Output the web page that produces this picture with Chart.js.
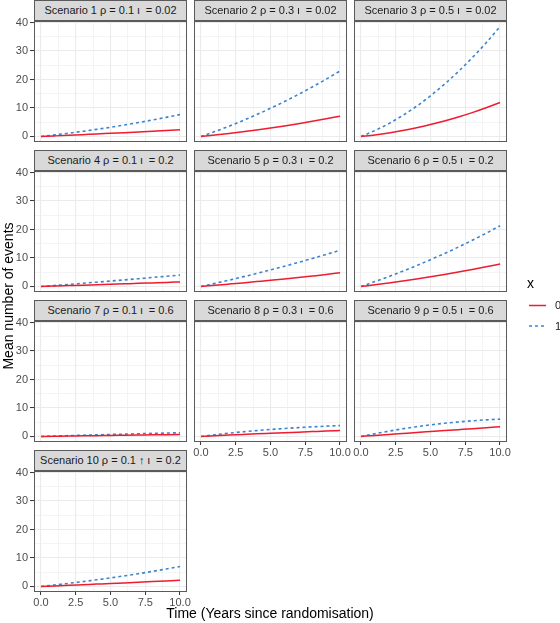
<!DOCTYPE html>
<html><head><meta charset="utf-8">
<script src="https://cdn.jsdelivr.net/npm/chart.js@4"></script>
<style>
html,body{margin:0;padding:0;background:#fff;}
body{width:560px;height:623px;overflow:hidden;position:relative;font-family:"Liberation Sans",Arial,sans-serif;}
canvas{position:absolute;}
.strip{position:absolute;box-sizing:border-box;height:21px;width:153px;background:#D9D9D9;border:1px solid #5a5a5a;color:#1A1A1A;font-size:11px;line-height:19px;text-align:center;white-space:pre;z-index:5;}
.txt{position:absolute;white-space:pre;z-index:6;}
</style></head><body>
<script>
// ---- data ----
const TIME = [0,1,2,3,4,5,6,7,8,9,10];
const X_TICKS = [0,2.5,5,7.5,10];
const X_TICK_LABELS = ['0.0','2.5','5.0','7.5','10.0'];
const X_MINOR = [1.25,3.75,6.25,8.75];
const Y_TICKS = [0,10,20,30,40];
const Y_TICK_LABELS = ['0','10','20','30','40'];
const Y_MINOR = [5,15,25,35];
const SERIES_NAMES = ['0','1'];
const SCENARIO_LABELS = [
  'Scenario 1 ρ = 0.1 ι  = 0.02',
  'Scenario 2 ρ = 0.3 ι  = 0.02',
  'Scenario 3 ρ = 0.5 ι  = 0.02',
  'Scenario 4 ρ = 0.1 ι  = 0.2',
  'Scenario 5 ρ = 0.3 ι  = 0.2',
  'Scenario 6 ρ = 0.5 ι  = 0.2',
  'Scenario 7 ρ = 0.1 ι  = 0.6',
  'Scenario 8 ρ = 0.3 ι  = 0.6',
  'Scenario 9 ρ = 0.5 ι  = 0.6',
  'Scenario 10 ρ = 0.1 ↑ ι  = 0.2'
];
const S1_X0 = [0,0.2,0.41,0.64,0.88,1.1,1.33,1.58,1.83,2.09,2.35];
const S1_X1 = [0,0.55,1.15,1.79,2.49,3.23,4.02,4.87,5.76,6.71,7.7];
const S2_X0 = [0,0.51,1.06,1.65,2.3,2.98,3.71,4.49,5.31,6.19,7.1];
const S2_X1 = [0,1.72,3.57,5.55,7.65,9.89,12.25,14.75,17.37,20.12,23.0];
const S3_X0 = [0,0.55,1.24,2.07,3.05,4.17,5.43,6.83,8.38,10.07,11.9];
const S3_X1 = [0,2.06,4.51,7.37,10.62,14.28,18.34,22.79,27.65,32.9,38.6];
const S4_X0 = [0,0.14,0.29,0.44,0.6,0.76,0.92,1.08,1.25,1.42,1.6];
const S4_X1 = [0,0.35,0.72,1.1,1.5,1.9,2.3,2.72,3.14,3.57,4.0];
const S5_X0 = [0,0.4,0.82,1.25,1.7,2.15,2.62,3.12,3.65,4.2,4.8];
const S5_X1 = [0,1.08,2.2,3.36,4.56,5.8,7.1,8.44,9.82,11.25,12.7];
const S6_X0 = [0,0.6,1.24,1.92,2.64,3.4,4.2,5.05,5.95,6.9,7.9];
const S6_X1 = [0,1.7,3.48,5.35,7.32,9.4,11.56,13.83,16.2,18.7,21.3];
const S7_X0 = [0,0.07,0.14,0.21,0.28,0.35,0.42,0.49,0.56,0.63,0.7];
const S7_X1 = [0,0.15,0.29,0.43,0.56,0.69,0.82,0.95,1.07,1.19,1.3];
const S8_X0 = [0,0.25,0.48,0.7,0.91,1.11,1.31,1.51,1.71,1.91,2.1];
const S8_X1 = [0,0.6,1.15,1.62,2.05,2.44,2.79,3.1,3.37,3.61,3.82];
const S9_X0 = [0,0.36,0.71,1.05,1.39,1.72,2.05,2.38,2.71,3.05,3.4];
const S9_X1 = [0,0.95,1.85,2.68,3.42,4.07,4.63,5.1,5.5,5.83,6.1];
const S10_X0 = [0,0.2,0.4,0.61,0.82,1.03,1.25,1.48,1.71,1.95,2.2];
const S10_X1 = [0,0.53,1.1,1.7,2.33,3.0,3.72,4.47,5.27,6.12,7.0];
const SERIES_X0 = [S1_X0,S2_X0,S3_X0,S4_X0,S5_X0,S6_X0,S7_X0,S8_X0,S9_X0,S10_X0];
const SERIES_X1 = [S1_X1,S2_X1,S3_X1,S4_X1,S5_X1,S6_X1,S7_X1,S8_X1,S9_X1,S10_X1];

// ---- styling / layout ----
const RED = '#EE1C2E';
const BLUE = '#3B84CF';
const GRID = '#EBEBEB';
const BORDER = '#5a5a5a';
const PLOT_W = 153, PLOT_H = 121, STRIP_H = 21;
const COL_X = [34, 194, 354];
const ROW_PITCH = 150;
const YAX_W = 34, PAD_TOP = 10, PAD_RIGHT = 14, XAX_H = 20;

Chart.defaults.font.family = "'Liberation Sans', Arial, sans-serif";

const borderPlugin = {
  id: 'panelBorder',
  afterDraw(chart) {
    const {ctx, chartArea: a} = chart;
    ctx.save();
    ctx.strokeStyle = BORDER;
    ctx.lineWidth = 1;
    ctx.strokeRect(Math.round(a.left) + 0.5, Math.round(a.top) + 0.5,
                   Math.round(a.right - a.left) - 1, Math.round(a.bottom - a.top) - 1);
    ctx.restore();
  }
};

const xGrid = X_TICKS.concat(X_MINOR).sort((a,b)=>a-b);
const yGrid = Y_TICKS.concat(Y_MINOR).sort((a,b)=>a-b);

function makePanel(i) {
  const row = Math.floor(i / 3), col = i % 3;
  const plotLeft = COL_X[col];
  const plotTop = row * ROW_PITCH + STRIP_H;
  const showY = col === 0;
  const showX = i >= 7;

  const strip = document.createElement('div');
  strip.className = 'strip';
  strip.style.left = plotLeft + 'px';
  strip.style.top = (row * ROW_PITCH) + 'px';
  strip.textContent = SCENARIO_LABELS[i];
  document.body.appendChild(strip);

  const cv = document.createElement('canvas');
  const W = YAX_W + PLOT_W + PAD_RIGHT, H = PAD_TOP + PLOT_H + XAX_H;
  cv.width = W; cv.height = H;
  cv.style.width = W + 'px'; cv.style.height = H + 'px';
  cv.style.left = (plotLeft - YAX_W) + 'px';
  cv.style.top = (plotTop - PAD_TOP) + 'px';
  document.body.appendChild(cv);

  const tickFont = {size: 11, family: "'Liberation Sans', Arial, sans-serif"};
  new Chart(cv.getContext('2d'), {
    type: 'line',
    data: {
      datasets: [
        {label: SERIES_NAMES[0], data: TIME.map((t, k) => ({x: t, y: SERIES_X0[i][k]})),
         borderColor: RED, borderWidth: 1.5, pointRadius: 0, fill: false,
         cubicInterpolationMode: 'monotone'},
        {label: SERIES_NAMES[1], data: TIME.map((t, k) => ({x: t, y: SERIES_X1[i][k]})),
         borderColor: BLUE, borderWidth: 1.6, borderDash: [3, 3], pointRadius: 0, fill: false,
         cubicInterpolationMode: 'monotone'}
      ]
    },
    options: {
      responsive: false, animation: false, events: [], devicePixelRatio: 1,
      layout: {padding: {top: PAD_TOP, right: PAD_RIGHT, left: 0, bottom: 0}},
      plugins: {legend: {display: false}, tooltip: {enabled: false}, title: {display: false}},
      scales: {
        x: {
          type: 'linear', min: -0.5, max: 10.5,
          afterBuildTicks: s => { s.ticks = xGrid.map(v => ({value: v})); },
          afterFit: s => { s.height = XAX_H; },
          ticks: {display: showX, autoSkip: false, maxRotation: 0, minRotation: 0, padding: 1,
                  color: '#4D4D4D', font: tickFont,
                  callback: v => { const k = X_TICKS.indexOf(v); return k >= 0 ? X_TICK_LABELS[k] : ''; }},
          grid: {color: GRID,
                 lineWidth: c => (c.tick && X_TICKS.includes(c.tick.value)) ? 1.1 : 0.55,
                 drawTicks: showX, tickLength: 3, tickWidth: 1,
                 tickColor: c => (c.tick && X_TICKS.includes(c.tick.value)) ? '#333333' : 'rgba(0,0,0,0)'},
          border: {display: false}
        },
        y: {
          type: 'linear', min: -1.95, max: 40.55,
          afterBuildTicks: s => { s.ticks = yGrid.map(v => ({value: v})); },
          afterFit: s => { s.width = YAX_W; },
          ticks: {display: showY, autoSkip: false, padding: 2, color: '#4D4D4D', font: tickFont,
                  callback: v => { const k = Y_TICKS.indexOf(v); return k >= 0 ? Y_TICK_LABELS[k] : ''; }},
          grid: {color: GRID,
                 lineWidth: c => (c.tick && Y_TICKS.includes(c.tick.value)) ? 1.1 : 0.55,
                 drawTicks: showY, tickLength: 4, tickWidth: 1,
                 tickColor: c => (c.tick && Y_TICKS.includes(c.tick.value)) ? '#333333' : 'rgba(0,0,0,0)'},
          border: {display: false}
        }
      }
    },
    plugins: [borderPlugin]
  });
}

for (let i = 0; i < SCENARIO_LABELS.length; i++) makePanel(i);

function addText(txt, css) {
  const d = document.createElement('div');
  d.className = 'txt';
  d.textContent = txt;
  Object.assign(d.style, css);
  document.body.appendChild(d);
  return d;
}
// axis titles
addText('Time (Years since randomisation)', {left: '70px', width: '400px', top: '605px', textAlign: 'center',
  fontSize: '14px', lineHeight: '16px', color: '#000'});
addText('Mean number of events', {left: (8 - 125) + 'px', width: '250px', top: (296 - 8) + 'px', height: '16px',
  textAlign: 'center', fontSize: '14px', lineHeight: '16px', color: '#000', transform: 'rotate(-90deg)'});
// legend
addText('x', {left: '527px', top: '275px', fontSize: '14px', lineHeight: '16px', color: '#000'});
addText(SERIES_NAMES[0], {left: '555px', top: '298px', fontSize: '11px', lineHeight: '14px', color: '#1A1A1A'});
addText(SERIES_NAMES[1], {left: '555px', top: '319px', fontSize: '11px', lineHeight: '14px', color: '#1A1A1A'});
const svgNS = 'http://www.w3.org/2000/svg';
const svg = document.createElementNS(svgNS, 'svg');
svg.setAttribute('width', '20'); svg.setAttribute('height', '40');
svg.style.position = 'absolute'; svg.style.left = '528px'; svg.style.top = '296px';
[[9.5, RED, null, 1.5], [30, BLUE, '3 3', 1.6]].forEach(([y, c, dash, w]) => {
  const l = document.createElementNS(svgNS, 'line');
  l.setAttribute('x1', '1'); l.setAttribute('x2', '18');
  l.setAttribute('y1', y); l.setAttribute('y2', y);
  l.setAttribute('stroke', c); l.setAttribute('stroke-width', w);
  if (dash) l.setAttribute('stroke-dasharray', dash);
  svg.appendChild(l);
});
document.body.appendChild(svg);
</script>
</body></html>
